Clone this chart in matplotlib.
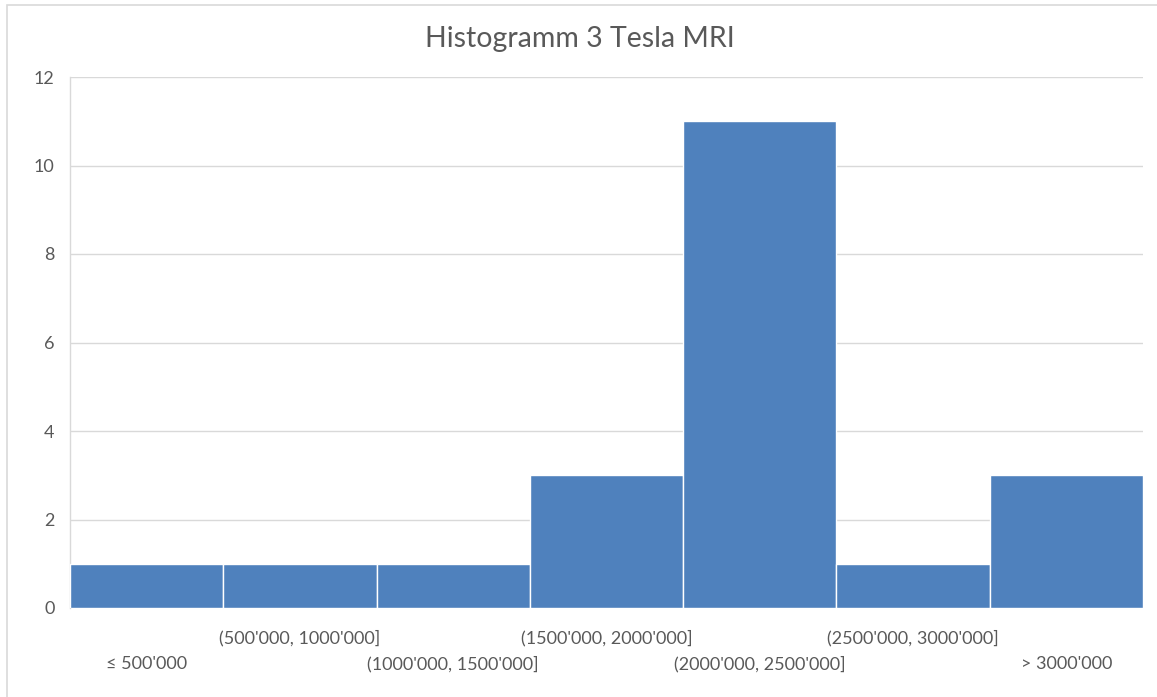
import matplotlib
matplotlib.use("Agg")
import matplotlib.pyplot as plt
from matplotlib.patches import Rectangle

categories = ["≤ 500'000", "(500'000, 1000'000]", "(1000'000, 1500'000]",
              "(1500'000, 2000'000]", "(2000'000, 2500'000]",
              "(2500'000, 3000'000]", "> 3000'000"]
counts = [1, 1, 1, 3, 11, 1, 3]
yticks = [0, 2, 4, 6, 8, 10, 12]
title = "Histogramm 3 Tesla MRI"

plt.rcParams['font.family'] = ['Lato', 'DejaVu Sans']

W, H = 1157, 697
fig = plt.figure(figsize=(W / 100, H / 100), dpi=100)
fig.patch.set_facecolor('white')

# chart border
fig.add_artist(Rectangle((7 / W, -0.05), 1.2, 1 - 5 / H + 0.05, transform=fig.transFigure,
                         fill=False, edgecolor='#D9D9D9', linewidth=1.2))

ax = fig.add_axes([70 / W, 1 - 608 / H, (1143 - 70) / W, (608 - 77) / H])
x = list(range(len(categories)))
ax.bar(x, counts, width=1.0, color='#4F81BD', edgecolor='white', linewidth=1, zorder=3)
ax.set_xlim(-0.5, len(categories) - 0.5)
ax.set_ylim(0, 12)
ax.set_yticks(yticks)
ax.set_yticklabels([str(v) for v in yticks], color='#595959', fontsize=13)
ax.tick_params(axis='y', length=0, pad=11)
ax.grid(axis='y', color='#D9D9D9', linewidth=1, zorder=0)
for s in ['top', 'right', 'bottom']:
    ax.spines[s].set_visible(False)
ax.spines['left'].set_color('#D9D9D9')
ax.spines['left'].set_linewidth(1)

ax.set_xticks(x)
ax.set_xticklabels([])
ax.tick_params(axis='x', length=0)
for i, lab in enumerate(categories):
    yoff = -30 if i % 2 == 1 else -56
    ax.annotate(lab, xy=(i, 0), xycoords=('data', 'axes fraction'),
                xytext=(0, yoff), textcoords='offset pixels',
                ha='center', va='center', fontsize=13, color='#595959')

fig.text(580 / W, 1 - 39 / H, title, ha='center', va='center',
         fontsize=20.5, color='#595959')

fig.savefig('out.png', dpi=100, facecolor='white')
